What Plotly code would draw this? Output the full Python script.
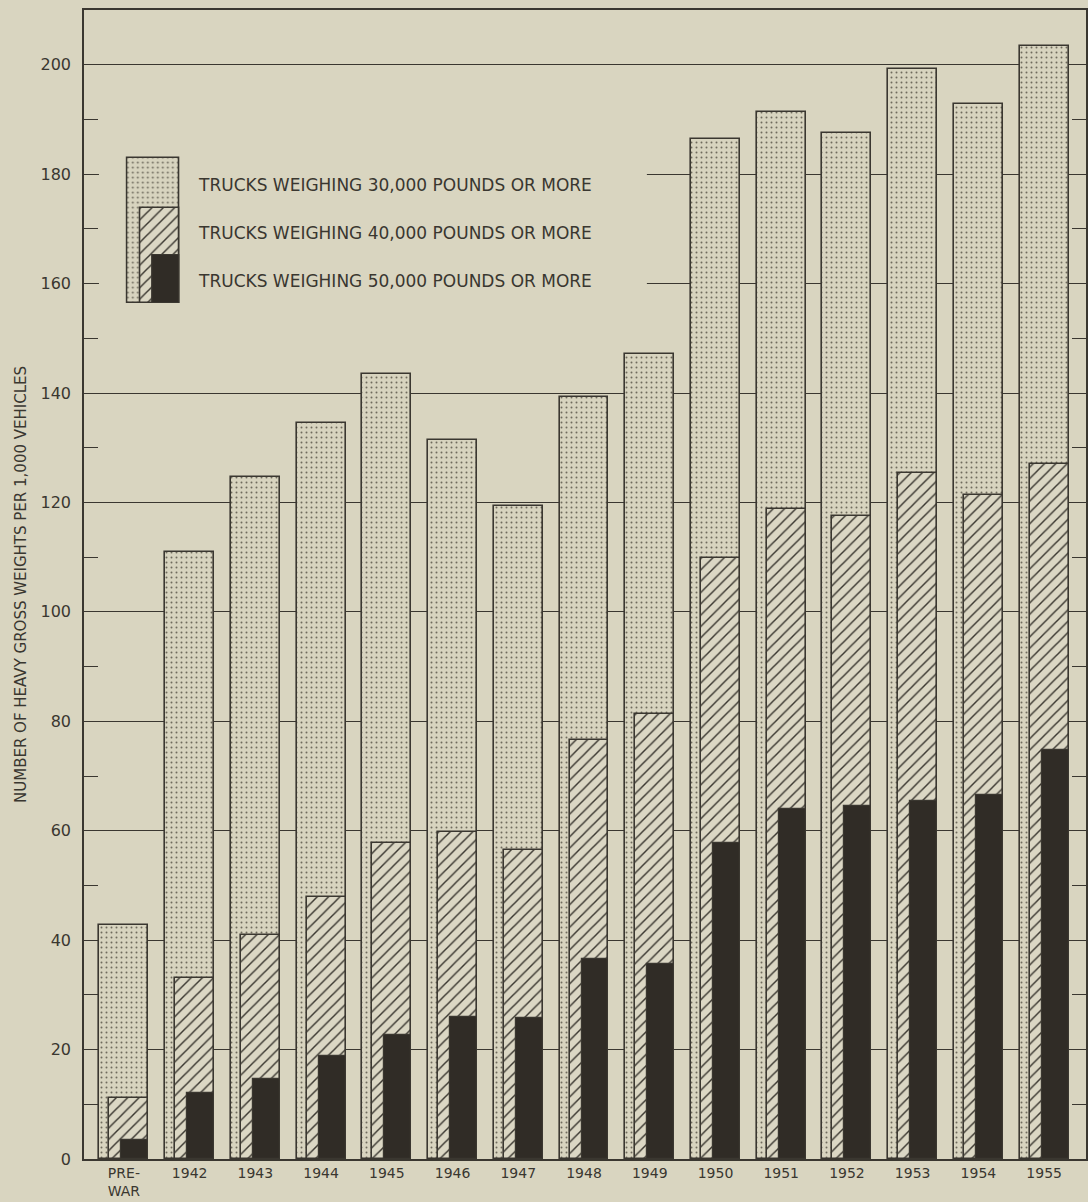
import plotly.graph_objects as go

# ---------------- data ----------------
categories = ["PRE-<br>WAR", "1942", "1943", "1944", "1945", "1946", "1947", "1948",
              "1949", "1950", "1951", "1952", "1953", "1954", "1955"]
trucks_30k = [42.7, 110.9, 124.6, 134.6, 143.5, 131.5, 119.4, 139.3, 147.1,
              186.5, 191.3, 187.5, 199.3, 192.8, 203.5]
trucks_40k = [11.2, 33.0, 41.0, 47.9, 57.8, 59.7, 56.4, 76.6, 81.3,
              109.8, 118.8, 117.6, 125.3, 121.4, 127.0]
trucks_50k = [3.4, 12.1, 14.7, 18.8, 22.7, 26.0, 25.8, 36.5, 35.7,
              57.8, 64.0, 64.5, 65.5, 66.5, 74.8]
legend_labels = ["TRUCKS WEIGHING 30,000 POUNDS OR MORE",
                 "TRUCKS WEIGHING 40,000 POUNDS OR MORE",
                 "TRUCKS WEIGHING 50,000 POUNDS OR MORE"]
y_title = "NUMBER OF HEAVY GROSS WEIGHTS PER 1,000 VEHICLES"

# ---------------- styles ----------------
PAPER = "rgb(217,213,192)"
INK = "rgb(58,55,48)"
DOT_BG = "rgb(216,212,191)"
BLACK = "rgb(48,44,38)"
FONT = "DejaVu Sans"

xs = list(range(len(categories)))
X_RANGE = [-0.607, 14.637]
Y_RANGE = [0, 210]

W_ALL = 0.744
R_EDGE = W_ALL / 2
W_30, W_40, W_50 = 0.744, 0.592, 0.41

fig = go.Figure()

def add_bar(x, y, width, offset, kind, xaxis="x", yaxis="y"):
    if kind == "dot":
        marker = dict(color=DOT_BG, line=dict(color=INK, width=1.6),
                      pattern=dict(shape=".", fgcolor="rgb(110,106,92)", bgcolor=DOT_BG,
                                   size=5, solidity=0.12, fillmode="replace"))
    elif kind == "hatch":
        marker = dict(color=DOT_BG, line=dict(color=INK, width=1.6),
                      pattern=dict(shape="/", fgcolor=INK, bgcolor="rgb(219,215,196)",
                                   size=8, solidity=0.18, fillmode="replace"))
    else:
        marker = dict(color=BLACK, line=dict(color=INK, width=1.2))
    fig.add_trace(go.Bar(x=x, y=y, width=width, offset=offset, marker=marker,
                         showlegend=False, hoverinfo="y", xaxis=xaxis, yaxis=yaxis))

n = len(xs)
add_bar(xs, trucks_30k, [W_30] * n, [R_EDGE - W_30] * n, "dot")
add_bar(xs, trucks_40k, [W_40] * n, [R_EDGE - W_40] * n, "hatch")
add_bar(xs, trucks_50k, [W_50] * n, [R_EDGE - W_50] * n, "black")

# legend swatch (composite mini bar) on an inset axis
add_bar([0], [1.0], [1.0], [0.0], "dot", "x2", "y2")
add_bar([0], [0.655], [0.75], [0.25], "hatch", "x2", "y2")
add_bar([0], [0.331], [0.52], [0.48], "black", "x2", "y2")

# plot geometry (px)
L, R, T, B = 84, 0, 10, 43
W_PX, H_PX = 1088, 1202
pw = W_PX - L - R
ph = H_PX - T - B

def fx(px):
    return (px - L) / pw

def fy(py):
    return (H_PX - B - py) / ph

def dx(px):
    return X_RANGE[0] + fx(px) * (X_RANGE[1] - X_RANGE[0])

def dy(py):
    return Y_RANGE[0] + fy(py) * (Y_RANGE[1] - Y_RANGE[0])

# background behind legend (covers gridlines, stays under bars)
fig.add_shape(type="rect", xref="x", yref="y",
              x0=dx(99), x1=dx(648), y0=dy(325), y1=dy(130),
              fillcolor=PAPER, line=dict(width=0), layer="between")

# legend texts
for lbl, py in zip(legend_labels, [185, 233, 281]):
    fig.add_annotation(text=lbl, xref="paper", yref="paper", x=fx(196), y=fy(py),
                       xanchor="left", yanchor="middle", showarrow=False,
                       font=dict(family=FONT, size=17, color=INK))

fig.update_layout(
    width=W_PX, height=H_PX,
    margin=dict(l=L, r=R, t=T, b=B),
    paper_bgcolor=PAPER, plot_bgcolor=PAPER,
    barmode="overlay", bargap=0,
    font=dict(family=FONT, color=INK),
    xaxis=dict(range=X_RANGE, tickvals=xs, ticktext=categories,
               showgrid=False, zeroline=False, showline=True, linecolor=INK,
               linewidth=1.5, mirror=True, ticks="",
               ticklabelstandoff=0,
               tickfont=dict(family=FONT, size=14, color=INK)),
    yaxis=dict(range=Y_RANGE, tickvals=list(range(0, 201, 20)),
               showgrid=True, gridcolor=INK, gridwidth=1.1,
               zeroline=False, showline=True, linecolor=INK, linewidth=1.5,
               mirror="ticks", ticks="inside", ticklen=14, tickcolor=INK,
               tickfont=dict(family=FONT, size=16, color=INK),
               ticklabelstandoff=8,
               minor=dict(dtick=10, tick0=0, ticks="inside", ticklen=14,
                          tickcolor=INK, showgrid=False),
               title=dict(text=y_title, standoff=10,
                          font=dict(family=FONT, size=15, color=INK))),
    xaxis2=dict(domain=[fx(127 - 1.6), fx(179 + 1.6)], range=[-0.03, 1.03],
                anchor="y2", visible=False, fixedrange=True),
    yaxis2=dict(domain=[fy(303 + 2.9), fy(158 - 2.9)], range=[-0.02, 1.02],
                anchor="x2", visible=False, fixedrange=True),
)

fig.write_html("out.html",
               config={"displayModeBar": False},
               post_script="document.body.style.margin='0';document.body.style.overflow='hidden';")
